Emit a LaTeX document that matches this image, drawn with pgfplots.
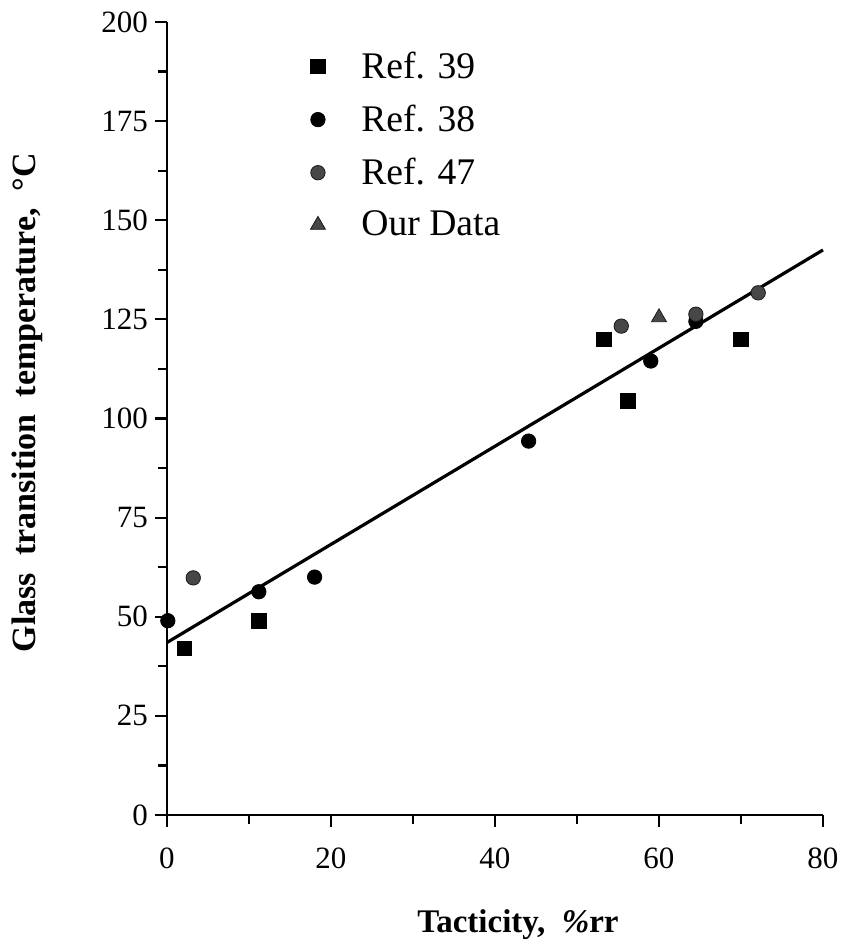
\documentclass[border=0pt]{standalone}
\usepackage{fontspec}
\setmainfont{Liberation Serif}
\usepackage{pgfplots}
\pgfplotsset{compat=1.18}
\begin{document}
\begin{tikzpicture}
\begin{axis}[
  name=ax,
  scale only axis, width=328pt, height=396.5pt,
  xmin=0, xmax=80, ymin=0, ymax=200,
  axis lines=left,
  axis line style={line width=1.3pt, -},
  xtick={0,20,...,80}, minor xtick={10,30,50,70},
  ytick={0,25,...,200}, minor ytick={12.5,37.5,...,187.5},
  tick align=outside,
  major tick length=6pt, minor tick length=4.5pt,
  tick style={line width=1.1pt, black},
  /pgf/number format/assume math mode=true,
  ticklabel style={font=\fontsize{15.5}{18}\selectfont},
  xticklabel style={yshift=-7pt},
  clip=false,
  xlabel={\textbf{Tacticity,\ \ \textit{\%}rr}},
  ylabel={\textbf{Glass\ \ transition\ \ temperature,\ \ °C}},
  xlabel style={font=\fontsize{16.5}{19}\selectfont, at={(axis description cs:0.535,-0.138)}, anchor=center},
  ylabel style={font=\fontsize{17}{19}\selectfont, at={(axis description cs:-0.213,0.52)}, anchor=center},
  legend style={at={(axis description cs:0.209,0.973)}, anchor=north west, draw=none, fill=none,
    font=\fontsize{18.8}{22}\selectfont, row sep=7.8pt,
    /tikz/every odd column/.append style={column sep=16pt}},
  legend cell align=left,
]
\addplot[only marks, mark=square*, mark size=3.6pt, black] coordinates {
  (2.1,42) (11.2,49) (53.3,120) (56.2,104.4) (70.0,120)
};
\addlegendentry{Ref. 39}
\addplot[only marks, mark=*, mark size=3.6pt, black] coordinates {
  (0.1,49) (11.2,56.3) (18.0,60) (44.1,94.3) (59.0,114.5) (64.5,124.5)
};
\addlegendentry{Ref. 38}
\addplot[only marks, mark=*, mark size=3.6pt, draw=black!90, fill=black!72] coordinates {
  (3.2,59.8) (55.4,123.3) (64.5,126.3) (72.1,131.7)
};
\addlegendentry{Ref. 47}
\addplot[only marks, mark=triangle*, mark size=4.3pt, draw=black!90, fill=black!72] coordinates {
  (60.0,125.5)
};
\addlegendentry{Our Data}
\addplot[black, line width=1.6pt, forget plot] coordinates {(0,43.5) (80,142.5)};
\end{axis}
\path (ax.south west) ++(-83.5pt,-66.5pt) coordinate (bbA);
\path (ax.north east) ++(10pt,11pt) coordinate (bbB);
\path[use as bounding box] (bbA) rectangle (bbB);
\end{tikzpicture}
\end{document}
